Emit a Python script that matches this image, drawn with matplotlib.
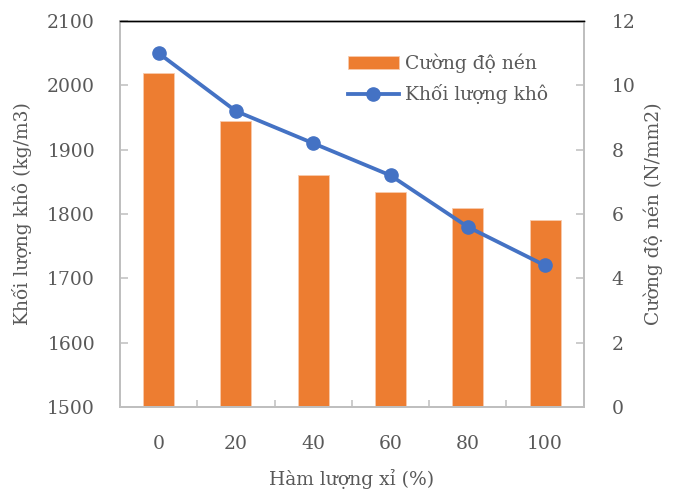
import matplotlib
matplotlib.use("Agg")
import matplotlib.pyplot as plt
import numpy as np

categories = ["0", "20", "40", "60", "80", "100"]
dry_density = [2020, 1945, 1860, 1835, 1810, 1790]      # kg/m3, left axis (bars)
strength = [11.0, 9.2, 8.2, 7.2, 5.6, 4.4]              # N/mm2, right axis (line)
left_ticks = [1500, 1600, 1700, 1800, 1900, 2000, 2100]
right_ticks = [0, 2, 4, 6, 8, 10, 12]

plt.rcParams['font.family'] = ['DejaVu Serif']
txt = '#595959'
grey = '#BFBFBF'
fs = 13.5

fig = plt.figure(figsize=(6.78, 4.90), dpi=100)
ax = fig.add_axes([0.177, 0.1694, 0.684, 0.7876])
ax2 = ax.twinx()

x = np.arange(len(categories))
bars = ax.bar(x, np.array(dry_density) - 1500, bottom=1500, width=0.4,
              color='#ED7D31', edgecolor='#F8CBAD', linewidth=0.6,
              label='Cường độ nén', zorder=2)
line, = ax2.plot(x, strength, color='#4472C4', linewidth=2.75, marker='o',
                 markersize=9.5, label='Khối lượng khô', zorder=3)

ax.set_xlim(-0.5, 5.5)
ax.set_ylim(1500, 2100)
ax2.set_ylim(0, 12)
ax.set_yticks(left_ticks)
ax2.set_yticks(right_ticks)
ax.set_xticks(x)
ax.set_xticklabels(categories)
ax.set_xticks(np.arange(-0.5, 6.0, 1.0), minor=True)

for a in (ax, ax2):
    for s in a.spines.values():
        s.set_color(grey)
        s.set_linewidth(1.3)
    a.spines['top'].set_color('black')
    a.spines['top'].set_linewidth(1.0)

ax.tick_params(axis='x', which='major', length=0, pad=20, labelsize=fs, labelcolor=txt)
ax.tick_params(axis='x', which='minor', direction='in', length=5, width=1.1, color=grey)
ax.tick_params(axis='y', direction='in', length=6, width=1.1, color=grey,
               pad=18, labelsize=fs, labelcolor=txt)
ax2.tick_params(axis='y', direction='in', length=6, width=1.1, color=grey,
                pad=20, labelsize=fs, labelcolor=txt)

ax.set_ylabel('Khối lượng khô (kg/m3)', fontsize=fs, color=txt, labelpad=11)
ax2.set_ylabel('Cường độ nén (N/mm2)', fontsize=fs, color=txt, labelpad=6)
ax.set_xlabel('Hàm lượng xỉ (%)', fontsize=fs, color=txt, labelpad=12)

ax.set_zorder(1)
ax2.set_zorder(2)
ax.patch.set_visible(False)

leg = ax2.legend([bars, line], ['Cường độ nén', 'Khối lượng khô'],
                 loc='upper left', bbox_to_anchor=(0.455, 0.96),
                 frameon=False, fontsize=fs, handlelength=2.7,
                 handletextpad=0.35, labelspacing=0.6)
for t in leg.get_texts():
    t.set_color(txt)

fig.savefig('out.png', dpi=100)
